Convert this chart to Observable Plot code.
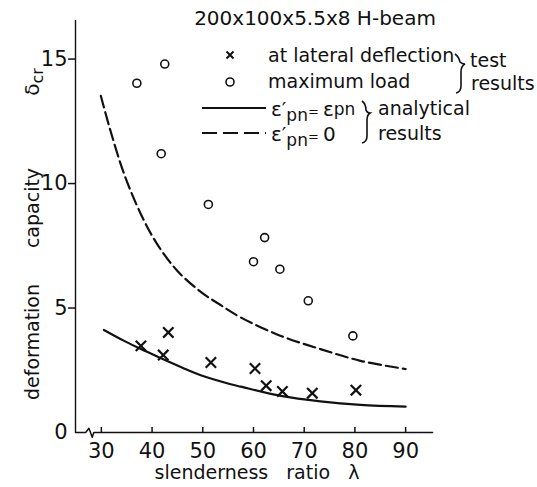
<!DOCTYPE html>
<html>
<head>
<meta charset="utf-8">
<script src="https://cdn.jsdelivr.net/npm/d3@7"></script>
<script src="https://cdn.jsdelivr.net/npm/@observablehq/plot@0.6"></script>
<style>
  html, body { margin: 0; padding: 0; background: #fff; }
  #chart { position: relative; width: 537px; height: 487px; }
  svg text { font-family: "DejaVu Sans", sans-serif; }
</style>
</head>
<body>
<div id="chart"></div>
<script>
// ---- texts ----
const title = "200x100x5.5x8 H-beam";
const xLabel = "slenderness ratio λ";
const yLabelWords = ["deformation", "capacity"];
const legendTest = ["at lateral deflection", "maximum load"];
const legendTestGroup = ["test", "results"];
const legendAnalyticalGroup = ["analytical", "results"];

// ---- axes ----
const xTicks = [30, 40, 50, 60, 70, 80, 90];
const yTicks = [5, 10, 15];
const xDomain = [24.9, 95.3];
const yDomain = [0, 16.55];
// axis-break zigzag on the x axis (λ, δ)
const breakLambda = [24.9, 26.9, 27.55, 28.2, 28.5, 95.3];
const breakDelta  = [0, 0, 0.17, -0.19, 0, 0];

// ---- test results ----
// x : at lateral deflection
const crossLambda = [37.8, 42.2, 43.2, 51.6, 60.3, 62.5, 65.7, 71.6, 80.2];
const crossDelta  = [3.48, 3.11, 4.02, 2.81, 2.57, 1.88, 1.65, 1.58, 1.70];
// o : maximum load
const circleLambda = [37.0, 42.5, 41.8, 51.1, 60.0, 62.2, 65.2, 70.8, 79.6];
const circleDelta  = [14.03, 14.8, 11.2, 9.16, 6.86, 7.83, 6.56, 5.29, 3.88];

// ---- analytical results ----
// solid : ε'pn = εpn
const solidLambda = [30.5, 34.5, 37.8, 41.7, 47.6, 49.6, 55.5, 57.5, 65.4, 73.2, 81.1, 90];
const solidDelta  = [4.12, 3.68, 3.35, 2.99, 2.46, 2.30, 1.94, 1.84, 1.47, 1.25, 1.11, 1.04];
// dashed : ε'pn = 0
const dashedLambda = [29.9, 31.8, 34.5, 37.8, 41.0, 45.0, 49.6, 53.2, 57.5, 65.4, 73.2, 81.1, 90];
const dashedDelta  = [13.52, 12.12, 10.38, 8.77, 7.57, 6.49, 5.65, 5.16, 4.62, 3.88, 3.35, 2.88, 2.55];

const zip = (xs, ys) => xs.map((x, i) => ({x, y: ys[i]}));
const ink = "#111";

const svg = Plot.plot({
  width: 537,
  height: 487,
  marginLeft: 75,
  marginRight: 105,
  marginTop: 20,
  marginBottom: 55,
  x: {domain: xDomain},
  y: {domain: yDomain},
  style: {fontFamily: "DejaVu Sans", fontSize: "21px", color: ink, background: "#fff", overflow: "visible"},
  marks: [
    Plot.ruleX([xDomain[0]], {y1: yDomain[0], y2: yDomain[1], stroke: ink, strokeWidth: 1.4}),
    Plot.line(zip(breakLambda, breakDelta), {x: "x", y: "y", stroke: ink, strokeWidth: 1.5}),
    Plot.ruleX(xTicks, {y1: 0, y2: 0.2, stroke: ink, strokeWidth: 1.5}),
    Plot.axisX({ticks: xTicks, tickSize: 0, tickPadding: 11, label: null, fontSize: 21}),
    Plot.axisY({ticks: yTicks, tickSize: 7, tickPadding: 1, label: null, strokeWidth: 1.5, fontSize: 21}),
    Plot.axisY({ticks: [0], tickSize: 0, tickPadding: 8, label: null, fontSize: 21}),
    Plot.line(zip(solidLambda, solidDelta), {x: "x", y: "y", curve: "catmull-rom", stroke: ink, strokeWidth: 2.2}),
    Plot.line(zip(dashedLambda, dashedDelta), {x: "x", y: "y", curve: "catmull-rom", stroke: ink, strokeWidth: 2.2, strokeDasharray: "12,5"}),
    Plot.dot(zip(circleLambda, circleDelta), {x: "x", y: "y", r: 4, stroke: ink, strokeWidth: 1.6, fill: "white"}),
    Plot.dot(zip(crossLambda, crossDelta), {x: "x", y: "y", symbol: "times", r: 4.8, stroke: ink, strokeWidth: 2.2})
  ]
});

const s = d3.select(svg);
const txt = (x, y, size, anchor) => s.append("text").attr("x", x).attr("y", y)
  .attr("font-size", size).attr("fill", ink).attr("text-anchor", anchor || "start");

// title
txt(315, 25, 20, "middle").text(title);

// x label
txt(257, 479, 19, "middle").style("word-spacing", "12px").text(xLabel);

// y label (rotated)
const rot = (x, y, size) => s.append("text").attr("transform", `translate(${x},${y}) rotate(-90)`)
  .attr("text-anchor", "middle").attr("font-size", size).attr("fill", ink);
rot(39, 342, 19).text(yLabelWords[0]);
rot(39, 208, 19).text(yLabelWords[1]);
const dl = rot(39, 82, 20);
dl.append("tspan").text("δ");
dl.append("tspan").attr("dy", 4).attr("font-size", 16).text("cr");

// legend: test results
s.append("path").attr("d", "M226.5,51.5L233.5,58.5M233.5,51.5L226.5,58.5")
  .attr("stroke", ink).attr("stroke-width", 2).attr("fill", "none");
s.append("circle").attr("cx", 230).attr("cy", 82).attr("r", 4)
  .attr("stroke", ink).attr("stroke-width", 1.6).attr("fill", "white");
txt(268, 62, 19).text(legendTest[0]);
txt(268, 88, 19).text(legendTest[1]);
s.append("path").attr("d", "M455,54 Q459,57 460,62 Q462,64 465,64 Q461,66 461,72 L461,86 Q461,92 456,93")
  .attr("stroke", ink).attr("stroke-width", 1.6).attr("fill", "none");
txt(470, 67, 19).text(legendTestGroup[0]);
txt(471, 90, 19).text(legendTestGroup[1]);

// legend: analytical results
s.append("line").attr("x1", 202).attr("x2", 266).attr("y1", 108).attr("y2", 108)
  .attr("stroke", ink).attr("stroke-width", 2.2);
s.append("line").attr("x1", 202).attr("x2", 266).attr("y1", 133).attr("y2", 133)
  .attr("stroke", ink).attr("stroke-width", 2.2).attr("stroke-dasharray", "15,6");

const r3 = txt(271, 116, 20);
r3.append("tspan").text("ε′");
r3.append("tspan").attr("dy", 5).attr("font-size", 17).text("pn");
r3.append("tspan").attr("dy", -5).attr("font-size", 13).text("= ");
r3.append("tspan").attr("font-size", 20).text("ε");
r3.append("tspan").attr("dy", -1).attr("font-size", 17).text("pn");

const r4 = txt(271, 141, 20);
r4.append("tspan").text("ε′");
r4.append("tspan").attr("dy", 5).attr("font-size", 17).text("pn");
r4.append("tspan").attr("dy", -5).attr("font-size", 13).text("= ");
r4.append("tspan").attr("font-size", 20).text("0");

s.append("path").attr("d", "M362,101 Q366,104 366,110 Q367,113 370,113 Q367,115 367,120 L367,136 Q367,142 362,143")
  .attr("stroke", ink).attr("stroke-width", 1.6).attr("fill", "none");
txt(378, 115, 19).text(legendAnalyticalGroup[0]);
txt(378, 140, 19).text(legendAnalyticalGroup[1]);

document.getElementById("chart").appendChild(svg);
</script>
</body>
</html>
